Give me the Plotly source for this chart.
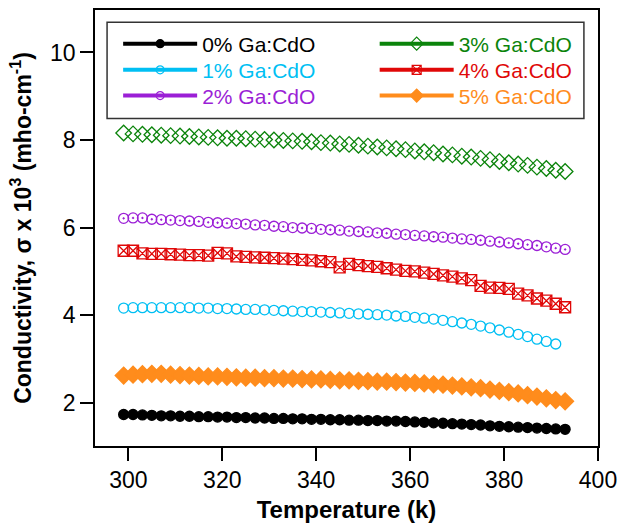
import plotly.graph_objects as go

temps = [299, 301, 303, 305, 307, 309, 311, 313, 315, 317, 319, 321, 323, 325, 327, 329,
         331, 333, 335, 337, 339, 341, 343, 345, 347, 349, 351, 353, 355, 357, 359, 361,
         363, 365, 367, 369, 371, 373, 375, 377, 379, 381, 383, 385, 387, 389, 391, 393]

s0 = [1.73, 1.73, 1.72, 1.71, 1.70, 1.70, 1.69, 1.69, 1.68, 1.68, 1.67, 1.67, 1.66, 1.66, 1.65, 1.65,
      1.64, 1.64, 1.63, 1.63, 1.62, 1.62, 1.61, 1.61, 1.60, 1.60, 1.59, 1.59, 1.58, 1.58, 1.57, 1.56,
      1.55, 1.54, 1.53, 1.52, 1.51, 1.50, 1.49, 1.47, 1.46, 1.45, 1.44, 1.43, 1.42, 1.41, 1.40, 1.39]

s1 = [4.16, 4.17, 4.17, 4.17, 4.17, 4.17, 4.17, 4.17, 4.16, 4.16, 4.15, 4.15, 4.14, 4.13, 4.13, 4.12,
      4.11, 4.10, 4.09, 4.08, 4.08, 4.07, 4.06, 4.05, 4.04, 4.03, 4.02, 4.01, 4.00, 3.98, 3.97, 3.95,
      3.93, 3.91, 3.88, 3.85, 3.82, 3.79, 3.75, 3.71, 3.66, 3.61, 3.56, 3.51, 3.45, 3.40, 3.34]

s2 = [6.21, 6.22, 6.22, 6.19, 6.18, 6.17, 6.16, 6.15, 6.14, 6.12, 6.11, 6.10, 6.09, 6.08, 6.06, 6.05,
      6.03, 6.02, 6.00, 5.99, 5.98, 5.96, 5.95, 5.94, 5.92, 5.91, 5.90, 5.88, 5.87, 5.85, 5.84, 5.82,
      5.81, 5.79, 5.78, 5.76, 5.74, 5.73, 5.71, 5.69, 5.67, 5.65, 5.63, 5.61, 5.59, 5.56, 5.53, 5.50]

s3 = [8.16, 8.14, 8.13, 8.12, 8.11, 8.10, 8.09, 8.08, 8.07, 8.06, 8.05, 8.04, 8.04, 8.03, 8.02, 8.01,
      8.00, 7.99, 7.98, 7.97, 7.96, 7.94, 7.93, 7.91, 7.90, 7.88, 7.86, 7.84, 7.82, 7.80, 7.78, 7.75,
      7.73, 7.71, 7.68, 7.66, 7.63, 7.61, 7.58, 7.55, 7.51, 7.48, 7.45, 7.42, 7.38, 7.35, 7.31, 7.28]

s4 = [5.47, 5.47, 5.41, 5.40, 5.40, 5.39, 5.38, 5.37, 5.37, 5.36, 5.42, 5.41, 5.34, 5.33, 5.32, 5.31,
      5.30, 5.29, 5.28, 5.26, 5.25, 5.23, 5.21, 5.09, 5.17, 5.14, 5.12, 5.10, 5.07, 5.04, 5.01, 5.00,
      4.97, 4.94, 4.91, 4.88, 4.84, 4.80, 4.67, 4.63, 4.62, 4.60, 4.49, 4.45, 4.38, 4.33, 4.26, 4.18]

s5 = [2.62, 2.64, 2.65, 2.66, 2.66, 2.64, 2.63, 2.62, 2.61, 2.60, 2.60, 2.59, 2.58, 2.57, 2.57, 2.56,
      2.56, 2.55, 2.55, 2.54, 2.53, 2.53, 2.52, 2.51, 2.51, 2.50, 2.49, 2.48, 2.48, 2.47, 2.46, 2.45,
      2.44, 2.42, 2.41, 2.39, 2.37, 2.35, 2.33, 2.30, 2.27, 2.24, 2.21, 2.17, 2.14, 2.10, 2.06, 2.03]

names = ["0% Ga:CdO", "1% Ga:CdO", "2% Ga:CdO", "3% Ga:CdO", "4% Ga:CdO", "5% Ga:CdO"]
series = [s0, s1, s2, s3, s4, s5]
colors = ["#000000", "#00BFF3", "#9B1FD6", "#0B840B", "#E00808", "#FF8C1C"]
symbols = ["circle", "circle-open", "circle-open-dot", "diamond-open", "square-x-open", "diamond"]
sizes = [10, 10, 10, 12, 11, 13]
lsizes = [8, 8, 8, 10, 9, 10]

FONT = "Liberation Sans, Arial, sans-serif"

fig = go.Figure()

for i in range(6):
    ys = series[i]
    fig.add_trace(go.Scatter(
        x=temps[:len(ys)], y=ys, mode="markers", showlegend=False,
        marker=dict(symbol=symbols[i], size=sizes[i], color=colors[i],
                    line=dict(color=colors[i], width=1.3)),
    ))

# legend entries (one legend per entry for exact placement)
leg_x = [0.046, 0.046, 0.046, 0.556, 0.556, 0.556]
leg_y = [0.922, 0.862, 0.803, 0.922, 0.862, 0.803]
legend_layouts = {}
for i in range(6):
    lname = "legend" if i == 0 else "legend%d" % (i + 1)
    fig.add_trace(go.Scatter(
        x=[None], y=[None], mode="lines+markers", legend=lname,
        name='<span style="color:%s">%s</span>' % (colors[i], names[i]),
        line=dict(color=colors[i], width=4),
        marker=dict(symbol=symbols[i], size=lsizes[i], color=colors[i],
                    line=dict(color=colors[i], width=1.2)),
    ))
    legend_layouts[lname] = dict(
        x=leg_x[i], y=leg_y[i], xanchor="left", yanchor="middle",
        bgcolor="rgba(0,0,0,0)", borderwidth=0, itemwidth=74,
        font=dict(family=FONT, size=21, color=colors[i]),
    )

fig.update_layout(
    width=619, height=527,
    margin=dict(l=95, r=21, t=10, b=81),
    paper_bgcolor="white", plot_bgcolor="white",
    font=dict(family=FONT, color="black"),
    shapes=[dict(type="rect", xref="paper", yref="paper",
                 x0=0.024, x1=0.972, y0=0.751, y1=0.972,
                 line=dict(color="#333333", width=1.5),
                 fillcolor="white", layer="below")],
    **legend_layouts,
)

fig.update_xaxes(
    range=[292.9, 400], tickvals=[300, 320, 340, 360, 380, 400],
    showgrid=False, zeroline=False, showline=True, mirror=True,
    linecolor="black", linewidth=1.5, ticks="outside", ticklen=13,
    tickwidth=1.5, tickcolor="black", automargin=False,
    tickfont=dict(family=FONT, size=23, color="black"),
    title=dict(text="<b>Temperature (k)</b>", standoff=9,
               font=dict(family=FONT, size=24, color="black")),
)
fig.update_yaxes(
    range=[1.01, 10.97], tickvals=[2, 4, 6, 8, 10],
    showgrid=False, zeroline=False, showline=True, mirror=True,
    linecolor="black", linewidth=1.5, ticks="outside", ticklen=13,
    tickwidth=1.5, tickcolor="black", automargin=False,
    tickfont=dict(family=FONT, size=23, color="black"),
    title=dict(text="<b>Conductivity, σ x 10<sup>3</sup> (mho-cm<sup>-1</sup>)</b>",
               standoff=12, font=dict(family=FONT, size=23, color="black")),
)

fig.write_html("out.html")
